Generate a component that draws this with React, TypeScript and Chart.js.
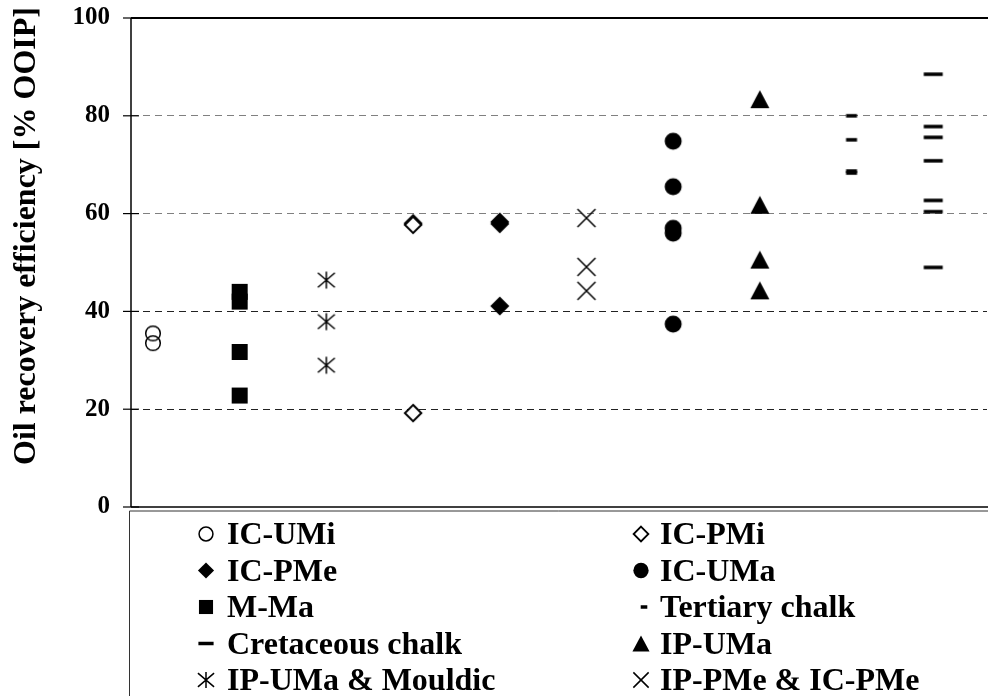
import React, { useEffect, useRef } from "react";
import { Chart, registerables } from "chart.js";

Chart.register(...registerables);

// ---- Data ----
const categories = [
  "IC-UMi",
  "M-Ma",
  "IP-UMa & Mouldic",
  "IC-PMi",
  "IC-PMe",
  "IP-PMe & IC-PMe",
  "IC-UMa",
  "IP-UMa",
  "Tertiary chalk",
  "Cretaceous chalk",
];
const categoryX = [1, 2, 3, 4, 5, 6, 7, 8, 9, 10];

const icUMi = [35.5, 33.5];
const mMa = [44.0, 42.0, 31.7, 22.8];
const ipUMaMouldic = [46.4, 37.9, 29.0];
const icPMi = [58.0, 57.7, 19.2];
const icPMe = [58.3, 57.9, 41.1];
const ipPMeIcPMe = [59.1, 49.1, 44.2];
const icUMa = [74.8, 65.5, 57.0, 56.0, 37.4];
const ipUMa = [83.4, 61.8, 50.6, 44.3];
const tertiaryChalk = [80.0, 75.1, 68.7, 68.3];
const cretaceousChalk = [88.5, 77.8, 75.6, 70.8, 62.7, 60.4, 49.0];

const seriesValues = [
  icUMi,
  mMa,
  ipUMaMouldic,
  icPMi,
  icPMe,
  ipPMeIcPMe,
  icUMa,
  ipUMa,
  tertiaryChalk,
  cretaceousChalk,
];

const legendOrder = [
  "IC-UMi",
  "IC-PMi",
  "IC-PMe",
  "IC-UMa",
  "M-Ma",
  "Tertiary chalk",
  "Cretaceous chalk",
  "IP-UMa",
  "IP-UMa & Mouldic",
  "IP-PMe & IC-PMe",
];

const yTicks = [0, 20, 40, 60, 80, 100];
const yTitle = "Oil recovery efficiency [% OOIP]";

// ---- Styles ----
const markerKinds: Record<string, string> = {
  "IC-UMi": "openCircle",
  "M-Ma": "filledSquare",
  "IP-UMa & Mouldic": "asterisk",
  "IC-PMi": "openDiamond",
  "IC-PMe": "filledDiamond",
  "IP-PMe & IC-PMe": "xCross",
  "IC-UMa": "filledCircle",
  "IP-UMa": "triangle",
  "Tertiary chalk": "shortDash",
  "Cretaceous chalk": "longDash",
};
const legendScale: Record<string, number> = {
  openCircle: 0.95,
  filledCircle: 0.9,
  filledSquare: 0.88,
  openDiamond: 0.9,
  filledDiamond: 0.85,
  triangle: 0.9,
  asterisk: 0.95,
  xCross: 0.85,
  shortDash: 0.6,
  longDash: 0.8,
};

const W = 988;
const H = 696;
const SERIF = "'Liberation Serif', 'Times New Roman', serif";

function drawMarker(ctx: CanvasRenderingContext2D, kind: string, cx: number, cy: number, k: number) {
  ctx.save();
  ctx.fillStyle = "#000";
  ctx.strokeStyle = "#000";
  ctx.lineCap = "butt";
  ctx.beginPath();
  switch (kind) {
    case "openCircle":
      ctx.lineWidth = 1.5;
      ctx.arc(cx, cy, 7.3 * k, 0, Math.PI * 2);
      ctx.stroke();
      break;
    case "filledCircle":
      ctx.arc(cx, cy, 8.5 * k, 0, Math.PI * 2);
      ctx.fill();
      break;
    case "filledSquare": {
      const s = 16 * k;
      ctx.rect(cx - s / 2, cy - s / 2, s, s);
      ctx.fill();
      break;
    }
    case "openDiamond": {
      const h = 8.2 * k;
      ctx.moveTo(cx, cy - h);
      ctx.lineTo(cx + h, cy);
      ctx.lineTo(cx, cy + h);
      ctx.lineTo(cx - h, cy);
      ctx.closePath();
      ctx.fillStyle = "#fff";
      ctx.fill();
      ctx.lineWidth = 2 * Math.max(0.8, k);
      ctx.stroke();
      break;
    }
    case "filledDiamond": {
      const h = 9.5 * k;
      ctx.moveTo(cx, cy - h);
      ctx.lineTo(cx + h, cy);
      ctx.lineTo(cx, cy + h);
      ctx.lineTo(cx - h, cy);
      ctx.closePath();
      ctx.fill();
      break;
    }
    case "triangle": {
      const w = 9.5 * k;
      const h = 9 * k;
      ctx.moveTo(cx, cy - h);
      ctx.lineTo(cx + w, cy + h);
      ctx.lineTo(cx - w, cy + h);
      ctx.closePath();
      ctx.fill();
      break;
    }
    case "asterisk": {
      const h = 8.5 * k;
      ctx.lineWidth = 1.5;
      ctx.moveTo(cx, cy - h);
      ctx.lineTo(cx, cy + h);
      ctx.moveTo(cx - h, cy - h * 0.85);
      ctx.lineTo(cx + h, cy + h * 0.85);
      ctx.moveTo(cx + h, cy - h * 0.85);
      ctx.lineTo(cx - h, cy + h * 0.85);
      ctx.stroke();
      break;
    }
    case "xCross": {
      const h = 9 * k;
      ctx.lineWidth = 1.5;
      ctx.moveTo(cx - h, cy - h);
      ctx.lineTo(cx + h, cy + h);
      ctx.moveTo(cx + h, cy - h);
      ctx.lineTo(cx - h, cy + h);
      ctx.stroke();
      break;
    }
    case "shortDash": {
      const w = 11 * k;
      const off = 5 * k;
      ctx.rect(cx + off - w / 2, cy - 1.75, w, 3.5);
      ctx.fill();
      break;
    }
    case "longDash": {
      const w = 19 * k;
      ctx.rect(cx - w / 2, cy - 1.75, w, 3.5);
      ctx.fill();
      break;
    }
  }
  ctx.restore();
}

function makeMarkerCanvas(kind: string): HTMLCanvasElement {
  const c = document.createElement("canvas");
  c.width = 32;
  c.height = 32;
  const ctx = c.getContext("2d")!;
  drawMarker(ctx, kind, 16, 16, 1);
  return c;
}

export default function App() {
  const canvasRef = useRef<HTMLCanvasElement>(null);

  useEffect(() => {
    const canvas = canvasRef.current;
    if (!canvas) return;

    const datasets = categories.map((label, i) => ({
      label,
      data: seriesValues[i].map((v) => ({ x: categoryX[i], y: v })),
      pointStyle: makeMarkerCanvas(markerKinds[label]) as any,
      pointRadius: 1,
      pointHoverRadius: 1,
      pointBorderWidth: 0,
      pointHoverBorderWidth: 0,
      showLine: false,
      clip: false,
    }));

    const framePlugin = {
      id: "frame",
      afterDraw(chart: any) {
        const ctx: CanvasRenderingContext2D = chart.ctx;
        const ca = chart.chartArea;
        const yScale = chart.scales.y;
        const line = (x1: number, y1: number, x2: number, y2: number) => {
          ctx.beginPath();
          ctx.moveTo(x1, y1);
          ctx.lineTo(x2, y2);
          ctx.stroke();
        };
        ctx.save();
        ctx.strokeStyle = "#000";
        // plot frame
        ctx.lineWidth = 2;
        line(ca.left, ca.top, W, ca.top);
        ctx.lineWidth = 1.5;
        line(ca.left, ca.top, ca.left, ca.bottom);
        line(ca.left, ca.bottom, W, ca.bottom);
        // cross tick marks
        ctx.lineWidth = 1.2;
        yTicks.forEach((v) => {
          const py = yScale.getPixelForValue(v);
          line(ca.left - 8, py, ca.left + 8, py);
        });
        // legend box
        const legTop = ca.bottom + 4;
        ctx.strokeStyle = "#333";
        ctx.lineWidth = 1;
        line(ca.left - 1.5, legTop, W, legTop);
        line(ca.left - 1.5, legTop, ca.left - 1.5, H);

        // y title
        ctx.fillStyle = "#000";
        ctx.font = `bold 32px ${SERIF}`;
        ctx.save();
        ctx.translate(27, 236);
        ctx.rotate(-Math.PI / 2);
        ctx.textAlign = "center";
        ctx.textBaseline = "middle";
        ctx.fillText(yTitle, 0, 0);
        ctx.restore();

        // legend items
        ctx.font = `bold 32px ${SERIF}`;
        ctx.textAlign = "left";
        ctx.textBaseline = "alphabetic";
        legendOrder.forEach((label, i) => {
          const col = i % 2;
          const row = Math.floor(i / 2);
          const cy = legTop + 23 + row * 36.5;
          const mx = col === 0 ? ca.left + 75 : ca.left + 510;
          const tx = col === 0 ? ca.left + 96 : ca.left + 529;
          const kind = markerKinds[label];
          drawMarker(ctx, kind, mx, cy, legendScale[kind]);
          ctx.fillStyle = "#000";
          ctx.fillText(label, tx, cy + 10);
        });
        ctx.restore();
      },
    };

    const chart = new Chart(canvas, {
      type: "scatter",
      data: { datasets },
      options: {
        responsive: false,
        animation: false,
        devicePixelRatio: 1,
        layout: { padding: { top: 0, bottom: 189, left: 0, right: 0 } },
        plugins: {
          legend: { display: false },
          tooltip: { enabled: false },
          title: { display: false },
        },
        scales: {
          x: { type: "linear", min: 0.7465, max: 10.62, display: false },
          y: {
            min: 0,
            max: 100,
            afterFit: (s: any) => {
              s.width = 131;
              s.paddingTop = 18;
            },
            ticks: {
              stepSize: 20,
              color: "#000",
              padding: 21,
              font: { family: SERIF, weight: "bold", size: 25 },
            },
            grid: {
              drawTicks: false,
              lineWidth: 1,
              color: (c: any) => {
                const v = c.tick ? c.tick.value : 0;
                if (v <= 0 || v >= 100) return "rgba(0,0,0,0)";
                return v >= 60 ? "#808080" : "#222";
              },
            },
            border: { display: false, dash: [7, 5] },
          },
        },
      },
      plugins: [framePlugin],
    } as any);

    return () => chart.destroy();
  }, []);

  return (
    <div style={{ position: "fixed", left: 0, top: 0, width: W, height: H, background: "#fff" }}>
      <canvas ref={canvasRef} width={W} height={H} style={{ display: "block", width: W, height: H }} />
    </div>
  );
}
